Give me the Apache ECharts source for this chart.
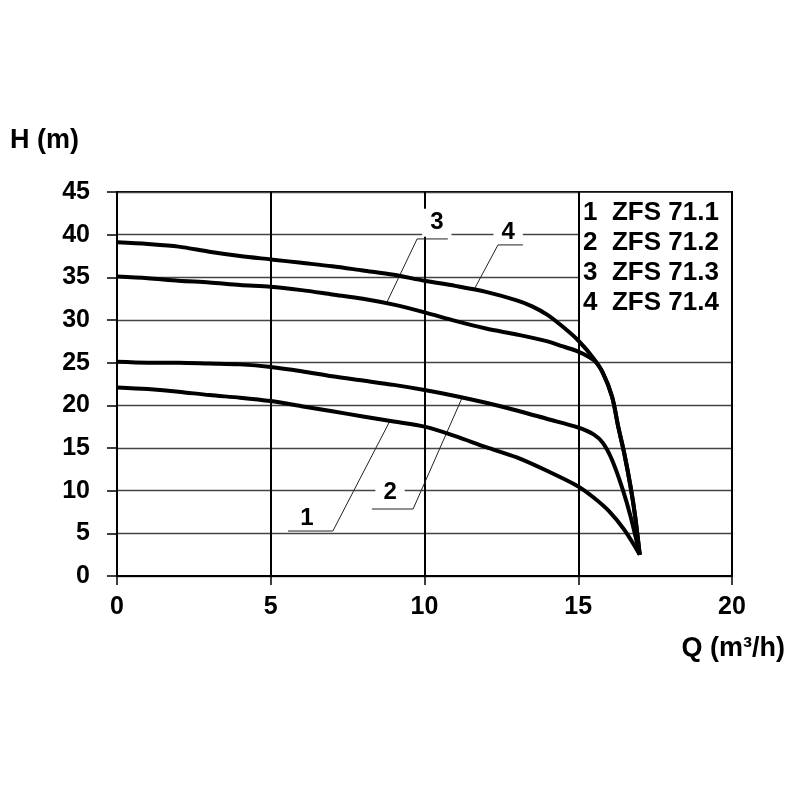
<!DOCTYPE html>
<html>
<head>
<meta charset="utf-8">
<script src="https://cdn.jsdelivr.net/npm/echarts@6/dist/echarts.min.js"></script>
<style>
  html, body { margin: 0; padding: 0; background: #fff; }
  #chart { width: 800px; height: 800px; }
</style>
</head>
<body>
<div id="chart"></div>
<script>
// 性能曲线数据 Q (m3/h), H (m)
var pump1 = [[0, 22.1], [1, 21.9], [2, 21.6], [3, 21.2], [4, 20.9], [5, 20.5], [6, 19.9], [7, 19.3], [8, 18.7], [9, 18.1], [10, 17.5], [11, 16.4], [12, 15.1], [13, 13.9], [14, 12.3], [15, 10.5], [15.5, 9.2], [16, 7.6], [16.5, 5.4], [17, 2.5]];
var pump2 = [[0, 25.1], [1, 25], [2, 25], [3, 24.9], [4, 24.8], [5, 24.5], [6, 24], [7, 23.4], [8, 22.9], [9, 22.4], [10, 21.8], [11, 21.1], [12, 20.3], [13, 19.4], [14, 18.4], [15, 17.4], [15.5, 16.6], [15.8, 15.6], [16.1, 13.6], [16.45, 10.1], [16.7, 7], [17, 2.5]];
var pump3 = [[0, 35.1], [1, 34.9], [2, 34.6], [3, 34.4], [4, 34.1], [5, 33.9], [6, 33.5], [7, 33], [8, 32.5], [9, 31.8], [10, 30.9], [11, 29.9], [12, 29], [13, 28.3], [14, 27.5], [14.5, 26.9], [15, 26.3], [15.5, 25.3], [15.8, 23.8], [16.1, 21], [16.3, 17.5], [16.5, 14.3], [16.7, 10.5], [16.85, 7], [17, 2.5]];
var pump4 = [[0, 39.1], [1, 38.9], [2, 38.6], [3, 38], [4, 37.5], [5, 37.1], [6, 36.7], [7, 36.3], [8, 35.8], [9, 35.3], [10, 34.6], [11, 34], [12, 33.3], [13, 32.3], [13.5, 31.6], [14, 30.6], [14.5, 29.2], [15, 27.6], [15.5, 25.5], [15.8, 23.8], [16.1, 21], [16.3, 17.5], [16.5, 14.3], [16.7, 10.5], [16.85, 7], [17, 2.5]];

var legendNames = ['1  ZFS 71.1', '2  ZFS 71.2', '3  ZFS 71.3', '4  ZFS 71.4'];

// 编号引线 (数据坐标)
var leader1 = [[5.56, 5.27], [7.02, 5.27], [8.88, 18.2]];
var leader2 = [[8.29, 7.85], [9.63, 7.85], [11.22, 20.86]];
var leader3 = [[10.76, 39.5], [9.76, 39.5], [8.78, 32.1]];
var leader4 = [[13.2, 38.8], [12.39, 38.8], [11.64, 33.75]];
var tagLabels = [[6.18, 6.8, '1'], [8.88, 9.84, '2'], [10.4, 41.4, '3'], [12.72, 40.3, '4']];

var FONT = 'Liberation Sans, Arial, sans-serif';

var myChart = echarts.init(document.getElementById('chart'));

function curve(data) {
    return {
        type: 'line',
        data: data,
        smooth: 0.3,
        symbol: 'none',
        silent: true,
        z: 5,
        lineStyle: { color: '#000', width: 4 }
    };
}

function leader(data) {
    return {
        type: 'line',
        data: data,
        symbol: 'none',
        silent: true,
        z: 4,
        lineStyle: { color: '#222', width: 1 }
    };
}

var option = {
    animation: false,
    grid: {
        left: 117,
        right: 68,
        top: 192,
        bottom: 224,
        show: true,
        borderColor: '#000',
        borderWidth: 2
    },
    xAxis: {
        type: 'value',
        min: 0,
        max: 20,
        interval: 5,
        axisLine: { lineStyle: { color: '#000', width: 2 } },
        axisTick: { show: true, length: 9, lineStyle: { color: '#000', width: 1.5 } },
        axisLabel: { color: '#000', fontSize: 25, fontWeight: 'bold', fontFamily: FONT, margin: 19 },
        splitLine: { lineStyle: { color: '#000', width: 2 } }
    },
    yAxis: {
        type: 'value',
        min: 0,
        max: 45,
        interval: 5,
        axisLine: { show: true, lineStyle: { color: '#000', width: 2 } },
        axisTick: { show: true, length: 10, lineStyle: { color: '#000', width: 1.5 } },
        axisLabel: { color: '#000', fontSize: 25, fontWeight: 'bold', fontFamily: FONT, margin: 27 },
        splitLine: { lineStyle: { color: '#444', width: 1.3 } }
    },
    series: [
        curve(pump1), curve(pump2), curve(pump3), curve(pump4),
        leader(leader1), leader(leader2), leader(leader3), leader(leader4),
        {
            type: 'scatter',
            data: tagLabels,
            symbolSize: 0,
            silent: true,
            z: 3,
            itemStyle: { opacity: 1 },
            label: {
                show: true,
                position: 'inside',
                formatter: function (p) { return p.data[2]; },
                color: '#000',
                textBorderWidth: 0,
                fontSize: 24,
                fontWeight: 'bold',
                fontFamily: FONT,
                backgroundColor: '#fff',
                padding: [2, 8]
            }
        }
    ],
    graphic: [
        {
            type: 'text',
            left: 10,
            top: 127,
            style: { text: 'H (m)', fill: '#000', font: 'bold 27px ' + FONT }
        },
        {
            type: 'text',
            right: 15,
            top: 635,
            style: { text: 'Q (m³/h)', fill: '#000', font: 'bold 27px ' + FONT }
        },
        {
            type: 'rect',
            shape: { x: 580, y: 193, width: 151, height: 135 },
            style: { fill: '#fff' },
            z: 10
        },
        {
            type: 'text',
            x: 583,
            y: 198,
            z: 11,
            style: {
                text: legendNames.join('\n'),
                fill: '#000',
                font: 'bold 26px ' + FONT,
                lineHeight: 30
            }
        }
    ]
};

myChart.setOption(option);
</script>
</body>
</html>
